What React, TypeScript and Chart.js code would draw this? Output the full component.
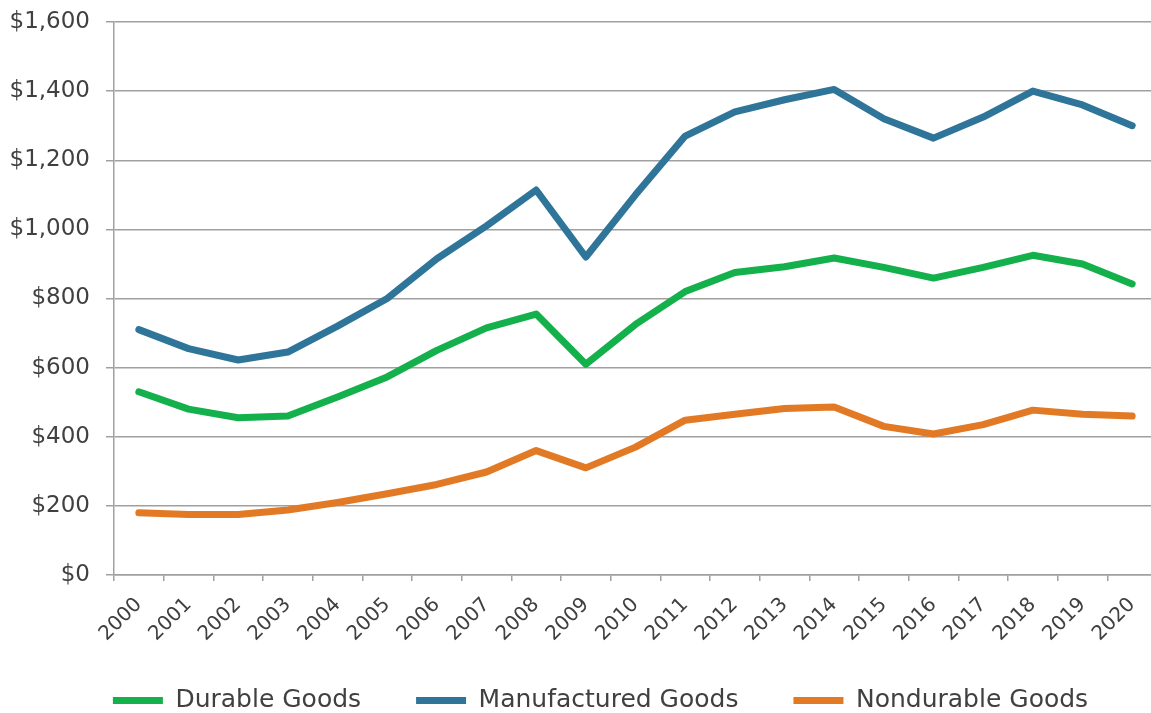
import React, { useEffect, useRef } from "react";
import { Chart, registerables } from "chart.js";

Chart.register(...registerables);

const years = ["2000","2001","2002","2003","2004","2005","2006","2007","2008","2009","2010","2011","2012","2013","2014","2015","2016","2017","2018","2019","2020"];
const durableGoods = [530, 480, 455, 460, 515, 573, 650, 715, 755, 610, 725, 820, 875, 892, 917, 890, 859, 890, 925, 900, 842];
const manufacturedGoods = [710, 655, 622, 645, 720, 800, 915, 1010, 1114, 920, 1100, 1270, 1340, 1375, 1405, 1320, 1264, 1325, 1400, 1360, 1300];
const nondurableGoods = [180, 175, 175, 188, 210, 235, 262, 298, 360, 310, 370, 448, 465, 482, 486, 430, 408, 435, 477, 465, 460];
const seriesNames = ["Durable Goods", "Manufactured Goods", "Nondurable Goods"];
const seriesColors = ["#14b04c", "#2e7599", "#e27a25"];

const FONT = "'DejaVu Sans', 'Liberation Sans', sans-serif";
const TEXT = "#404040";
const GRID = "#a0a0a0";

// nudges the legend block so that it sits where the reference legend sits
const legendNudge = {
  id: "legendNudge",
  afterLayout(chart: any) {
    const l = chart.legend;
    if (!l) return;
    const dx = 22, dy = -12;
    l.left += dx; l.right += dx; l.top += dy;
  },
};

export default function App() {
  const ref = useRef<HTMLCanvasElement | null>(null);
  useEffect(() => {
    if (!ref.current) return;
    const data = [durableGoods, manufacturedGoods, nondurableGoods];
    const chart = new Chart(ref.current, {
      type: "line",
      data: {
        labels: years,
        datasets: seriesNames.map((name, i) => ({
          label: name,
          data: data[i],
          borderColor: seriesColors[i],
          backgroundColor: seriesColors[i],
          borderWidth: 7,
          pointRadius: 0,
          tension: 0,
          borderJoinStyle: "round" as const,
          borderCapStyle: "round" as const,
        })),
      },
      plugins: [legendNudge],
      options: {
        responsive: false,
        animation: false,
        devicePixelRatio: 1,
        layout: { padding: { left: 0, top: 22, right: 53, bottom: 0 } },
        plugins: {
          tooltip: { enabled: false },
          legend: {
            position: "bottom",
            maxHeight: 68,
            labels: {
              boxWidth: 50,
              boxHeight: 7,
              padding: 55,
              color: TEXT,
              font: { family: FONT, size: 25 },
              generateLabels: (c: any) =>
                c.data.datasets.map((d: any, i: number) => ({
                  text: d.label,
                  fillStyle: d.borderColor,
                  strokeStyle: d.borderColor,
                  lineWidth: 0,
                  hidden: false,
                  datasetIndex: i,
                  fontColor: TEXT,
                })),
            },
          },
        },
        scales: {
          x: {
            offset: true,
            afterFit: (s: any) => { s.height = 70; },
            grid: { offset: true, drawOnChartArea: false, drawTicks: true, tickLength: 6, color: GRID, lineWidth: 1.5 },
            border: { display: true, color: GRID, width: 1.5 },
            ticks: {
              autoSkip: false,
              maxRotation: 45,
              minRotation: 45,
              color: TEXT,
              padding: 12,
              labelOffset: 0,
              font: { family: FONT, size: 20 },
            },
          },
          y: {
            min: 0,
            max: 1600,
            afterFit: (s: any) => { s.width = 114; },
            grid: { color: GRID, lineWidth: 1.5, tickLength: 8 },
            border: { display: true, color: GRID, width: 1.5 },
            ticks: {
              stepSize: 200,
              padding: 16,
              color: TEXT,
              font: { family: FONT, size: 23, lineHeight: 0.5 },
              callback: (v: any) => "$" + Number(v).toLocaleString("en-US"),
            },
          },
        },
      },
    });
    return () => chart.destroy();
  }, []);
  return (
    <div style={{ position: "fixed", left: 0, top: 0, width: 1151, height: 713, overflow: "hidden", background: "#fff" }}>
      <canvas ref={ref} width={1210} height={713} style={{ display: "block" }} />
    </div>
  );
}
